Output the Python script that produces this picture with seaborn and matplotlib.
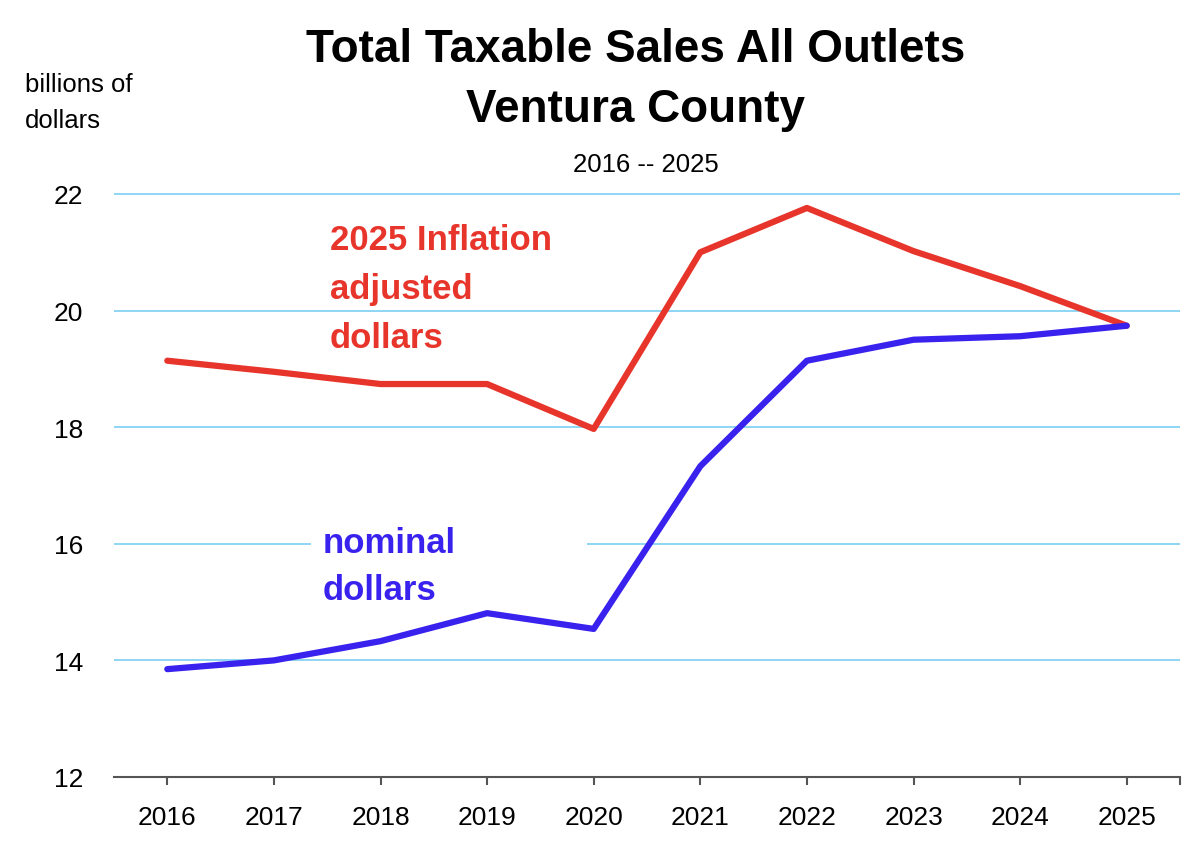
import matplotlib
matplotlib.use("Agg")
import matplotlib.pyplot as plt
import seaborn as sns
import pandas as pd
from matplotlib.patches import Rectangle

years = [2016, 2017, 2018, 2019, 2020, 2021, 2022, 2023, 2024, 2025]
inflation_adjusted = [19.14, 18.95, 18.74, 18.74, 17.97, 21.00, 21.76, 21.02, 20.42, 19.74]
nominal = [13.85, 14.00, 14.33, 14.81, 14.54, 17.33, 19.14, 19.50, 19.56, 19.74]
y_ticks = [12, 14, 16, 18, 20, 22]

RED = "#E8352B"
BLUE = "#3A22EE"
GRID = "#86D3F2"

sns.set_style("white")
FONT = ["Liberation Sans Narrow", "Liberation Sans", "DejaVu Sans"]
plt.rcParams["font.family"] = FONT
plt.rcParams["text.color"] = "black"
plt.rcParams["xtick.color"] = "black"
plt.rcParams["ytick.color"] = "black"

df = pd.DataFrame({
    "pos": list(range(len(years))) * 2,
    "value": inflation_adjusted + nominal,
    "series": ["2025 Inflation adjusted dollars"] * len(years) + ["nominal dollars"] * len(years),
})

W, H = 1200, 853
fig = plt.figure(figsize=(W / 100, H / 100), dpi=100)
ax = fig.add_axes([114 / W, 1 - 778 / H, (1180 - 114) / W, (778 - 183.3) / H])

sns.lineplot(data=df, x="pos", y="value", hue="series",
             palette=[RED, BLUE], linewidth=4.5, ax=ax, legend=False,
             zorder=3)
for l in ax.lines:
    l.set_solid_joinstyle("round")
    l.set_solid_capstyle("round")

ax.set_xlim(-0.5, len(years) - 0.5)
ax.set_ylim(12, 22.2)
ax.set_yticks(y_ticks)
ax.set_yticklabels([str(t) for t in y_ticks], fontsize=19)
ax.set_xticks(range(len(years)))
ax.set_xticklabels([str(y) for y in years], fontsize=19)
ax.set_xticks([len(years) - 0.5], minor=True)
ax.set_xlabel("")
ax.set_ylabel("")

ax.yaxis.grid(True, color=GRID, linewidth=1.3, zorder=0)
ax.set_axisbelow(True)
for sp in ["top", "right", "left"]:
    ax.spines[sp].set_visible(False)
ax.spines["bottom"].set_color("#555555")
ax.spines["bottom"].set_linewidth(1.5)
ax.tick_params(axis="y", left=False, length=0, pad=22, labelcolor="black")
ax.tick_params(axis="x", which="both", bottom=True, direction="out", length=6,
               width=1.5, color="#555555", pad=14, labelcolor="black")

# white background behind nominal label
fig.patches.append(Rectangle((311 / W, 1 - 560 / H), (587 - 311) / W, 30 / H,
                             transform=fig.transFigure, facecolor="white",
                             edgecolor="none", zorder=1))

fig.text(636 / W, 1 - 62 / H, "Total Taxable Sales All Outlets", ha="center",
         va="baseline", fontsize=33, fontweight="bold")
fig.text(636 / W, 1 - 122 / H, "Ventura County", ha="center",
         va="baseline", fontsize=33, fontweight="bold")
fig.text(646 / W, 1 - 172 / H, "2016 -- 2025", ha="center",
         va="baseline", fontsize=18.5)
fig.text(25 / W, 1 - 92 / H, "billions of", ha="left", va="baseline", fontsize=18.5)
fig.text(25 / W, 1 - 128 / H, "dollars", ha="left", va="baseline", fontsize=18.5)

for i, line in enumerate(["2025 Inflation", "adjusted", "dollars"]):
    fig.text(330 / W, 1 - (250 + 49 * i) / H, line, ha="left", va="baseline",
             fontsize=25, fontweight="bold", color=RED)
for i, line in enumerate(["nominal", "dollars"]):
    fig.text(323 / W, 1 - (553 + 47 * i) / H, line, ha="left", va="baseline",
             fontsize=25, fontweight="bold", color=BLUE, zorder=5)

fig.savefig("out.png", dpi=100, facecolor="white")
